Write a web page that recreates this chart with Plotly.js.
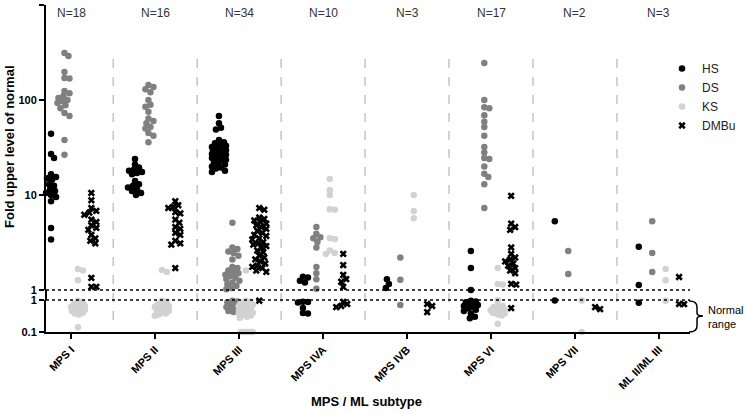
<!DOCTYPE html>
<html><head><meta charset="utf-8">
<script src="https://cdn.plot.ly/plotly-3.0.1.min.js"></script>
<style>html,body{margin:0;padding:0;background:#fff}#chart{width:746px;height:414px}</style>
</head><body><div id="chart"></div>
<script>
// ---------------- data ----------------
const categories = ['MPS I','MPS II','MPS III','MPS IVA','MPS IVB','MPS VI','MPS VII','ML II/ML III'];
const nLabels = ['N=18','N=16','N=34','N=10','N=3','N=17','N=2','N=3'];
const seriesNames = ['HS','DS','KS','DMBu'];

const hsValues = [
  [44, 27, 24.5, 16.5, 15.5, 15, 14.5, 13, 12.5, 12, 11.5, 11, 10.5, 10, 9.5, 8.6, 4.5, 3.4],
  [24, 21, 19.5, 18.5, 18, 17.5, 17, 16.5, 14, 13, 12.5, 12, 11.5, 11, 10.5, 10],
  [68, 57, 51, 49, 38, 36, 35, 34, 33, 32, 31, 30, 29.5, 29, 28.5, 28, 27.5, 27, 26.5, 26, 25.5, 25, 24.5, 24, 23.5, 23, 22, 21.5, 21, 20, 19.5, 19, 18, 17.5],
  [1.38, 1.35, 1.25, 1.2, 0.88, 0.86, 0.84, 0.56, 0.39, 0.38],
  [1.3, 1.16, 1.05],
  [2.57, 1.7, 1.0, 0.95, 0.9, 0.85, 0.8, 0.75, 0.7, 0.65, 0.6, 0.55, 0.5, 0.45, 0.38, 0.3, 0.27],
  [5.3, 0.97],
  [2.85, 1.13, 0.82]
];
const dsValues = [
  [312, 290, 197, 170, 168, 124, 118, 110, 105, 100, 97, 93, 88, 82, 73, 68, 38, 26.5],
  [144, 137, 130, 121, 100, 89, 85, 75, 64, 60, 57, 52, 50, 45, 42, 36],
  [5.1, 2.8, 2.7, 2.55, 2.45, 2.3, 2.1, 1.75, 1.7, 1.6, 1.55, 1.5, 1.45, 1.4, 1.35, 1.3, 1.25, 1.2, 1.15, 1.1, 1.05, 1.02, 0.95, 0.9, 0.85, 0.8, 0.75, 0.7, 0.6, 0.55, 0.5, 0.45, 0.42, 0.4],
  [4.6, 3.9, 3.6, 3.5, 3.2, 2.8, 1.75, 1.5, 1.3, 1.03],
  [2.2, 1.28, 0.7],
  [245, 100, 84, 82, 69, 59, 52, 42, 32, 28, 24.5, 24, 20, 16.7, 15.5, 13, 7.3],
  [2.57, 1.47],
  [5.3, 2.45, 1.55]
];
const ksValues = [
  [1.66, 1.6, 1.27, 0.95, 0.85, 0.75, 0.7, 0.65, 0.6, 0.55, 0.5, 0.5, 0.45, 0.45, 0.4, 0.38, 0.35, 0.14],
  [1.62, 1.55, 0.95, 0.9, 0.75, 0.7, 0.65, 0.6, 0.55, 0.5, 0.45, 0.42, 0.4, 0.38, 0.35, 0.32],
  [1.6, 0.95, 0.9, 0.85, 0.8, 0.75, 0.7, 0.65, 0.6, 0.55, 0.5, 0.5, 0.45, 0.45, 0.4, 0.4, 0.38, 0.35, 0.33, 0.3, 0.28, 0.1, 0.1, 0.1, 0.1, 0.1, 0.1],
  [14.7, 11.3, 10, 7.1, 7.0, 3.5, 3.45, 2.6, 2.45, 2.4],
  [10, 6.8, 5.7],
  [1.7, 1.16, 1.14, 0.98, 0.7, 0.65, 0.6, 0.55, 0.5, 0.48, 0.45, 0.42, 0.4, 0.38, 0.35, 0.33, 0.18],
  [0.96, 0.1],
  [1.66, 1.27, 0.95]
];
const dmbuValues = [
  [10.5, 8.8, 7.3, 6.8, 6.5, 6.2, 5.5, 5.2, 4.8, 4.5, 4.3, 3.8, 3.5, 3.3, 3.1, 1.34, 1.08, 1.08],
  [8.6, 7.8, 7.5, 7.3, 6.6, 6.4, 5.5, 5.1, 4.6, 4.4, 4.0, 3.8, 3.3, 3.1, 3.0, 1.7],
  [7.3, 7.0, 5.8, 5.6, 5.4, 5.2, 5.0, 4.8, 4.6, 4.4, 4.2, 4.0, 3.8, 3.7, 3.5, 3.4, 3.2, 3.1, 3.0, 2.9, 2.8, 2.6, 2.5, 2.3, 2.2, 2.1, 2.0, 1.9, 1.8, 1.75, 1.7, 1.6, 1.55, 0.95],
  [2.4, 1.83, 1.44, 1.3, 1.22, 1.08, 0.87, 0.75, 0.65, 0.6],
  [0.75, 0.65, 0.42],
  [9.8, 5.0, 4.6, 4.3, 2.8, 2.4, 2.2, 2.1, 2.0, 1.9, 1.8, 1.7, 1.6, 1.5, 1.16, 1.14, 0.56],
  [0.6, 0.52],
  [1.37, 0.75, 0.74]
];
const yTickUpper = [1, 10, 100, 1000];
const yTickLower = [0.1, 1];

// ---------------- layout geometry ----------------
const W = 746, H = 414;
const M = {l: 46, r: 56, t: 5, b: 82};
const plotW = W - M.l - M.r, plotH = H - M.t - M.b;
const upperPx = 285, gapPx = 10, lowerPx = plotH - upperPx - gapPx;
const upperDomain = [(lowerPx + gapPx) / plotH, 1];
const lowerDomain = [0, lowerPx / plotH];
const xRange = [-0.3, 7.37];
const ppu = plotW / (xRange[1] - xRange[0]);
const seriesOffset = [-0.24, -0.08, 0.08, 0.24];
const allSeries = [hsValues, dsValues, ksValues, dmbuValues];
const styles = [
  {color: '#000000', symbol: 'circle', size: 6.5},
  {color: '#808080', symbol: 'circle', size: 6.5},
  {color: '#d2d2d2', symbol: 'circle', size: 6.5},
  {color: '#000000', symbol: 'x', size: 6.5}
];
const py2paper = py => (M.t + plotH - py) / plotH;
const px2paper = px => (px - M.l) / plotW;

// beeswarm offsets (pixels) for given vertical pixel positions
function swarm(pys, minDist, maxOff) {
  const order = pys.map((p, i) => i).sort((a, b) => pys[a] - pys[b]);
  const placed = [], offs = new Array(pys.length).fill(0);
  order.forEach(i => {
    const y = pys[i];
    let best = 0, bestScore = -1;
    for (let k = 0; k <= 2 * maxOff; k++) {
      const c = (k % 2 ? 1 : -1) * Math.ceil(k / 2);
      let md = Infinity;
      placed.forEach(p => { const d = Math.hypot(p.x - c, p.y - y); if (d < md) md = d; });
      if (md >= minDist) { best = c; bestScore = Infinity; break; }
      if (md > bestScore + 0.01) { bestScore = md; best = c; }
    }
    offs[i] = best;
    placed.push({x: best, y: y});
  });
  return offs;
}

const traces = [];
allSeries.forEach((ser, s) => {
  const up = {x: [], y: []}, lo = {x: [], y: []};
  ser.forEach((vals, g) => {
    const upVals = vals.filter(v => v >= 1), loVals = vals.filter(v => v < 1);
    const upPy = upVals.map(v => (3 - Math.log10(v)) / 3 * upperPx);
    const loPy = loVals.map(v => (0 - Math.log10(v)) * lowerPx);
    const uo = swarm(upPy, 5, 7), lo2 = swarm(loPy, 4.5, 7);
    upVals.forEach((v, k) => { up.x.push(g + seriesOffset[s] + uo[k] / ppu); up.y.push(v); });
    loVals.forEach((v, k) => { lo.x.push(g + seriesOffset[s] + lo2[k] / ppu); lo.y.push(v); });
  });
  const st = styles[s];
  const marker = {color: st.color, symbol: st.symbol, size: st.size, line: {width: 0}};
  traces.push({type: 'scatter', mode: 'markers', name: seriesNames[s], legendgroup: seriesNames[s],
    x: up.x, y: up.y, xaxis: 'x', yaxis: 'y', marker: marker, cliponaxis: false, hoverinfo: 'skip'});
  traces.push({type: 'scatter', mode: 'markers', name: seriesNames[s], legendgroup: seriesNames[s], showlegend: false,
    x: lo.x, y: lo.y, xaxis: 'x', yaxis: 'y2', marker: marker, cliponaxis: false, hoverinfo: 'skip'});
});

const FONT = 'Liberation Sans, Arial, Helvetica, sans-serif';
const shapes = [];
for (let i = 0; i < categories.length - 1; i++) {
  shapes.push({type: 'line', xref: 'x', yref: 'paper', x0: i + 0.5, x1: i + 0.5,
    y0: py2paper(320), y1: py2paper(55), line: {color: '#a8a8a8', width: 1, dash: 'dash'}});
}
shapes.push({type: 'line', xref: 'paper', yref: 'paper', x0: 0, x1: 1, y0: upperDomain[0], y1: upperDomain[0],
  line: {color: '#000', width: 1.3, dash: 'dot'}});
shapes.push({type: 'line', xref: 'paper', yref: 'paper', x0: 0, x1: 1, y0: lowerDomain[1], y1: lowerDomain[1],
  line: {color: '#000', width: 1.3, dash: 'dot'}});
shapes.push({type: 'line', xref: 'paper', yref: 'paper', x0: 0, x1: 0, y0: lowerDomain[1], y1: upperDomain[0],
  line: {color: '#000', width: 2}});
// curly brace for "Normal range"
(function () {
  const X = px2paper, Y = py2paper;
  const a = 689, b = 697, tip = 703, top = 301, bot = 332, mid = 316;
  const p = `M ${X(a)},${Y(top)} Q ${X(b)},${Y(top)} ${X(b)},${Y(top + 6)} L ${X(b)},${Y(mid - 3)} Q ${X(b)},${Y(mid)} ${X(tip)},${Y(mid)} ` +
            `Q ${X(b)},${Y(mid)} ${X(b)},${Y(mid + 3)} L ${X(b)},${Y(bot - 6)} Q ${X(b)},${Y(bot)} ${X(a)},${Y(bot)}`;
  shapes.push({type: 'path', xref: 'paper', yref: 'paper', path: p, line: {color: '#000', width: 1.5}});
})();

const annotations = nLabels.map((t, i) => ({text: t, xref: 'x', yref: 'paper', x: i, y: py2paper(13),
  showarrow: false, xanchor: 'center', yanchor: 'middle', font: {family: FONT, size: 12, color: '#333'}}));
annotations.push({text: 'Fold upper level of normal', textangle: -90, xref: 'paper', yref: 'paper',
  x: px2paper(9), y: py2paper(147), showarrow: false, xanchor: 'center', yanchor: 'middle',
  font: {family: FONT, size: 13, color: '#000', weight: 'bold'}});
annotations.push({text: 'MPS / ML subtype', xref: 'paper', yref: 'paper', x: px2paper(366), y: py2paper(401),
  showarrow: false, xanchor: 'center', yanchor: 'middle', font: {family: FONT, size: 13, color: '#000', weight: 'bold'}});
annotations.push({text: 'Normal<br>range', xref: 'paper', yref: 'paper', x: px2paper(707), y: py2paper(317),
  showarrow: false, xanchor: 'left', yanchor: 'middle', align: 'left', borderpad: 0,
  font: {family: FONT, size: 11, color: '#000'}});

const tickFont = {family: FONT, size: 11, color: '#000', weight: 'bold'};
const layout = {
  width: W, height: H, margin: M, paper_bgcolor: '#fff', plot_bgcolor: '#fff',
  showlegend: true,
  legend: {x: px2paper(662), y: py2paper(54), xanchor: 'left', yanchor: 'top', font: {family: FONT, size: 12, color: '#222'},
    bgcolor: 'rgba(0,0,0,0)', tracegroupgap: 0, itemwidth: 30},
  xaxis: {range: xRange, anchor: 'y2', tickvals: categories.map((c, i) => i), ticktext: categories, tickangle: -45,
    tickfont: tickFont, showline: true, linecolor: '#000', linewidth: 2, ticks: 'outside', ticklen: 5, tickwidth: 2,
    tickcolor: '#000', showgrid: false, zeroline: false, fixedrange: true},
  yaxis: {type: 'log', range: [0, 3], domain: upperDomain, anchor: 'x', tickvals: yTickUpper, ticktext: yTickUpper.map(String),
    tickfont: tickFont, showline: true, linecolor: '#000', linewidth: 2, ticks: 'outside', ticklen: 5, tickwidth: 2,
    tickcolor: '#000', showgrid: false, zeroline: false, fixedrange: true},
  yaxis2: {type: 'log', range: [-1, 0], domain: lowerDomain, anchor: 'x', tickvals: yTickLower, ticktext: yTickLower.map(String),
    tickfont: tickFont, showline: true, linecolor: '#000', linewidth: 2, ticks: 'outside', ticklen: 5, tickwidth: 2,
    tickcolor: '#000', showgrid: false, zeroline: false, fixedrange: true},
  shapes: shapes, annotations: annotations
};
Plotly.newPlot('chart', traces, layout, {displayModeBar: false, staticPlot: true});
</script></body></html>
